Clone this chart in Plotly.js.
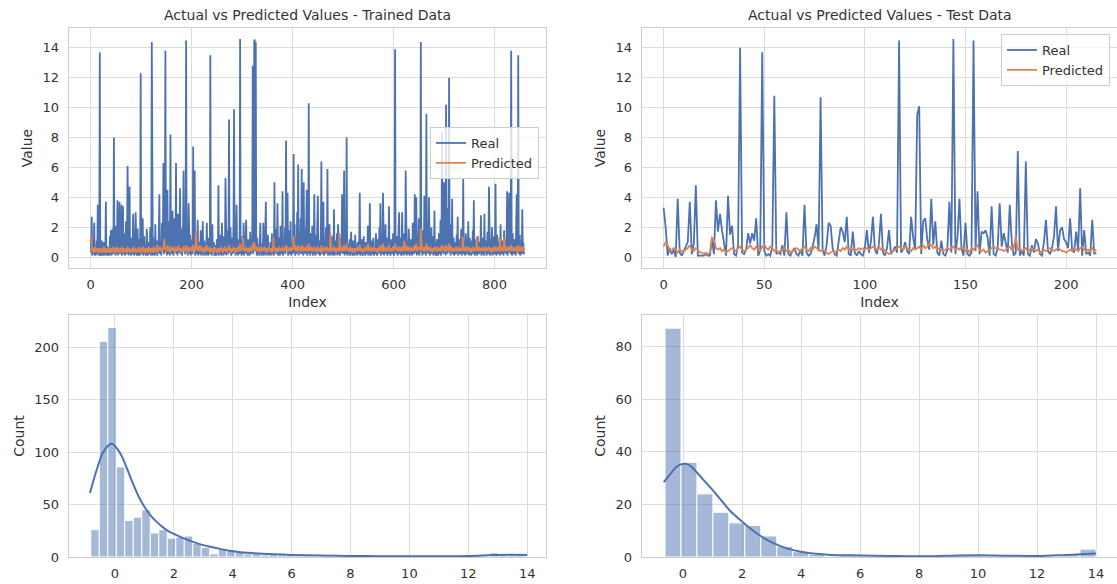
<!DOCTYPE html>
<html><head><meta charset="utf-8">
<script src="https://cdn.plot.ly/plotly-3.0.1.min.js"></script>
<style>html,body{margin:0;padding:0;background:#fff}#chart{width:1117px;height:584px}</style>
</head><body><div id="chart"></div>
<script>
// ---- Top-left: training data, real values (index 0..859)
const trainReal = [
1.2,0.3,2.7,0.1,1.0,0.2,0.4,2.3,0.1,0.8,0.1,0.3,1.1,0.2,3.5,0.4,0.1,0.9,13.7,0.2,
0.1,0.6,1.1,0.1,0.3,0.2,1.0,0.1,0.4,0.2,3.7,0.3,0.1,0.7,0.2,0.1,0.5,0.1,1.4,0.2,
1.8,0.1,0.4,1.9,0.2,0.6,8.0,0.3,1.2,0.1,2.1,0.4,0.2,3.8,0.1,1.5,0.3,3.7,0.2,1.1,
0.4,3.5,0.1,0.8,3.4,0.2,0.5,1.6,0.1,0.3,2.4,0.2,0.9,6.1,0.4,0.1,1.8,4.7,0.2,0.6,
0.1,1.3,0.3,0.2,2.9,0.5,0.1,1.0,0.2,3.0,0.3,0.1,0.7,1.9,0.1,0.4,1.2,0.2,0.1,12.3,
0.3,1.1,0.2,2.6,0.1,0.5,1.4,0.2,0.8,0.1,0.3,1.9,0.2,0.1,0.6,1.0,0.2,0.4,2.0,0.1,
0.5,14.4,0.2,0.1,1.3,0.3,0.7,0.1,2.2,0.4,0.2,1.1,0.1,0.9,0.3,1.6,4.2,0.2,0.5,1.0,
0.1,2.3,0.4,1.2,6.3,0.2,0.8,2.8,13.8,0.3,1.5,0.1,4.5,0.6,0.2,2.4,0.9,0.1,8.2,0.4,
1.7,0.2,3.1,0.5,0.1,1.2,2.6,0.3,0.7,6.3,0.2,1.4,0.1,2.9,0.5,0.3,1.1,4.6,0.2,0.8,
1.9,0.1,0.6,2.2,5.8,0.4,1.3,0.2,0.9,14.5,0.3,2.0,0.1,1.0,3.6,0.4,0.2,1.5,0.1,0.7,
0.3,1.2,0.2,7.4,0.5,1.7,5.8,0.1,0.8,0.3,1.4,0.2,2.5,0.1,0.6,1.0,0.2,0.4,1.8,0.1,
0.5,0.2,2.4,0.3,0.1,1.1,0.4,0.2,0.9,0.1,2.3,0.3,0.6,0.1,1.3,0.2,0.4,13.5,0.2,0.7,
0.1,2.2,0.3,0.5,1.0,0.1,0.2,0.8,0.4,0.1,1.2,0.3,0.2,4.8,0.1,0.6,1.5,0.2,0.4,0.1,
2.3,0.3,0.9,0.1,1.4,0.2,0.5,5.3,0.3,0.1,1.8,0.4,0.2,1.1,9.2,0.3,0.7,2.0,0.1,0.5,
1.3,0.2,0.4,2.6,9.9,0.3,0.8,0.1,1.6,3.5,0.2,0.6,0.1,1.2,0.4,0.2,14.6,0.3,0.9,0.1,
0.5,1.4,0.2,2.3,0.1,0.7,0.3,1.0,2.5,0.2,0.4,0.1,1.2,0.3,0.6,0.1,1.7,0.2,0.5,1.1,
0.3,12.8,0.2,1.5,14.5,14.5,0.4,14.4,0.6,0.1,1.3,0.2,0.8,0.3,0.1,1.0,2.3,0.2,0.5,0.1,
0.9,0.3,2.3,0.1,0.6,0.2,1.2,3.7,0.1,0.4,0.2,1.5,0.3,0.1,0.7,0.2,1.0,0.4,0.1,1.6,
0.2,0.5,1.1,0.1,5.0,0.3,0.8,1.9,0.2,0.4,3.6,0.1,0.6,1.3,0.2,0.1,2.1,0.3,0.9,0.2,
4.4,0.1,0.5,1.2,0.3,2.0,0.2,7.8,0.6,1.4,4.3,0.1,0.3,1.8,0.2,0.7,2.4,0.1,0.4,1.0,
0.2,1.5,6.9,0.3,2.2,0.1,0.8,1.3,0.2,3.0,0.4,6.2,0.1,1.7,0.3,0.6,2.6,0.2,5.9,0.4,
1.1,0.1,5.0,0.3,1.9,0.2,0.7,2.3,4.5,0.1,0.5,1.4,10.3,0.2,0.9,0.1,1.6,0.3,0.4,2.1,
0.1,0.6,1.2,4.2,0.3,0.1,1.5,0.2,0.8,2.4,4.1,0.2,0.5,1.1,0.1,0.3,1.8,6.4,0.2,0.7,
1.3,3.7,0.1,0.4,1.0,0.2,2.0,0.3,0.6,5.9,0.1,1.2,0.3,2.2,0.1,0.5,0.9,0.2,1.4,0.1,
0.4,0.2,3.2,0.1,0.7,1.1,0.2,0.3,1.6,0.1,2.2,0.4,0.2,0.8,0.1,1.3,0.3,0.5,4.2,0.2,
1.0,0.3,5.8,0.1,0.6,1.4,0.2,8.0,0.4,0.1,0.9,0.3,0.2,1.2,0.1,0.5,1.7,0.2,0.4,0.1,
1.1,0.2,0.6,0.1,1.5,0.3,0.2,0.8,0.1,1.0,0.4,0.2,1.3,4.3,0.1,0.5,0.3,1.2,0.2,0.1,
0.7,1.4,0.2,0.4,0.1,1.0,0.3,0.6,0.2,2.1,0.1,0.9,0.4,3.6,0.2,0.1,1.1,0.5,0.3,0.2,
1.3,0.1,0.6,0.3,0.2,1.6,0.4,0.1,0.8,1.2,0.2,0.5,2.0,0.3,3.6,0.1,0.7,1.5,0.2,4.3,
0.3,0.1,1.0,0.4,2.2,0.2,0.6,1.3,0.1,0.4,0.9,3.4,0.2,0.5,0.1,1.2,0.3,0.7,0.2,1.6,
0.4,0.1,1.1,13.9,0.3,0.8,0.2,1.4,0.1,0.6,2.0,3.0,0.2,0.5,1.3,0.1,0.4,3.0,0.2,0.9,
0.1,1.6,0.3,0.2,5.8,0.4,0.1,1.0,0.6,0.2,1.9,0.3,0.1,0.8,1.2,0.2,0.5,0.1,2.3,0.4,
1.1,0.2,4.2,0.3,0.7,4.0,0.1,1.5,0.4,0.2,2.6,0.1,0.6,1.2,14.4,0.3,0.9,0.1,1.8,0.4,
0.2,4.1,0.6,1.3,0.1,9.6,0.3,0.8,2.4,0.2,4.0,0.5,0.1,1.1,0.3,2.0,0.2,0.6,1.4,0.1,
0.4,3.1,0.2,0.9,0.1,0.5,1.2,0.3,0.1,0.7,1.6,0.2,0.4,2.5,0.1,0.8,8.3,0.3,1.9,0.2,
5.0,0.6,2.8,0.1,10.2,0.4,1.5,0.2,3.3,0.7,12.0,0.3,1.1,0.1,2.2,0.5,3.9,0.2,0.9,1.3,
0.1,0.6,1.0,0.3,0.2,1.5,0.4,2.7,0.1,0.8,0.3,1.2,0.2,0.5,1.9,0.1,0.7,0.3,5.3,0.2,
1.0,0.4,0.1,1.6,0.3,0.2,0.9,0.5,2.4,0.1,0.6,1.3,0.2,0.4,0.1,1.1,0.3,1.8,0.2,3.8,
0.3,0.1,0.7,1.2,0.2,0.5,0.1,1.4,0.3,0.8,0.2,1.0,0.4,2.8,0.1,0.6,1.3,0.2,0.4,0.1,
2.9,0.3,0.6,1.1,0.1,0.4,1.7,0.2,0.8,4.7,0.3,0.1,1.2,0.5,0.2,2.0,0.1,0.7,1.4,0.3,
0.2,1.0,4.9,0.3,0.1,1.5,0.6,0.2,0.9,0.4,1.3,0.1,2.2,0.3,0.7,0.2,1.1,0.5,0.1,1.8,
0.3,0.6,1.2,0.2,1.4,4.4,0.1,0.8,2.0,4.3,0.3,1.0,0.2,13.8,0.5,0.1,1.6,0.3,0.7,0.2,
1.2,0.4,0.1,2.3,4.2,0.3,0.9,13.5,0.2,0.6,1.5,0.1,0.4,1.1,0.2,3.2,0.5,1.0,0.2,0.3
];
// ---- Top-left: training data, predicted values
const trainPred = [
1.4,0.9,0.6,0.4,0.5,0.3,0.6,0.4,0.5,0.7,0.3,0.5,0.4,0.6,0.5,0.3,0.4,0.6,0.5,0.4,
0.3,0.5,0.6,0.4,0.3,0.5,0.7,0.4,0.5,0.3,0.6,0.4,0.5,0.3,0.4,0.6,0.5,0.3,0.4,0.5,
0.6,0.4,0.3,0.5,0.7,0.4,0.5,0.6,0.3,0.4,0.5,0.7,0.4,0.3,0.5,0.6,0.4,0.5,0.3,0.6,
0.4,0.5,0.7,0.3,0.4,0.6,0.5,0.3,0.5,0.4,0.6,0.4,0.3,0.7,0.5,0.4,0.6,0.3,0.5,0.4,
0.5,0.3,0.6,0.4,0.5,0.7,0.4,0.3,0.5,0.6,0.4,0.5,0.3,0.4,0.6,0.5,0.7,0.4,0.3,0.5,
0.6,0.4,0.5,0.3,0.7,0.5,0.4,0.6,0.3,0.5,0.4,0.6,0.5,0.3,0.4,0.7,0.5,0.4,0.6,0.3,
0.5,0.4,0.6,0.5,0.3,0.7,0.4,0.5,0.6,0.4,0.3,0.5,0.8,0.4,0.5,0.6,0.4,0.7,0.5,0.4,
0.6,0.5,0.4,0.7,0.5,0.9,1.2,0.6,0.5,0.7,0.4,0.6,0.5,0.8,0.4,0.6,0.5,0.3,0.7,0.5,
0.4,0.6,0.5,0.7,0.4,0.5,0.6,0.3,0.5,0.7,0.4,0.6,0.5,0.4,0.8,0.5,0.6,0.4,0.5,0.3,
0.6,0.5,0.4,0.7,0.5,0.6,0.4,0.5,0.8,0.6,0.4,0.5,0.7,0.3,0.5,0.6,0.4,0.5,0.7,0.4,
0.5,0.6,0.4,0.8,0.5,0.7,0.6,0.4,0.9,1.8,0.6,0.5,0.7,0.4,0.6,0.5,0.8,0.4,0.6,0.5,
0.7,0.4,0.5,0.6,0.3,0.5,0.7,0.4,0.6,0.5,0.8,0.4,0.5,0.6,0.4,0.7,0.5,0.3,0.6,0.5,
0.4,0.6,0.5,0.3,0.5,0.7,0.4,0.6,0.5,0.4,0.3,0.5,0.6,0.4,0.5,0.3,0.6,0.4,0.5,0.7,
0.4,0.5,0.3,0.6,0.4,0.5,0.7,0.4,0.5,0.6,0.3,0.5,0.4,0.6,0.8,0.5,0.4,0.6,0.5,0.3,
0.5,0.6,0.4,0.7,0.5,0.4,0.6,0.5,0.3,0.6,0.4,0.5,0.7,0.4,0.5,0.6,0.9,0.5,0.4,0.6,
0.5,0.7,1.3,0.6,0.5,0.4,0.6,0.5,0.7,0.4,0.6,0.5,0.3,0.6,0.4,0.5,0.7,0.4,0.6,0.5,
0.4,0.9,0.5,0.6,1.0,0.8,0.5,0.7,0.4,0.6,0.5,0.7,0.4,0.5,0.6,0.3,0.5,0.7,0.4,0.6,
0.5,0.4,0.6,0.5,0.7,0.4,0.5,0.6,0.3,0.5,0.4,0.6,0.5,0.7,0.4,0.5,0.6,0.4,0.5,0.3,
0.6,0.5,1.3,0.4,0.7,0.5,0.6,0.4,0.5,0.3,0.6,0.5,0.4,0.7,0.5,0.6,0.4,0.5,0.6,0.4,
0.7,0.5,0.4,0.6,0.5,0.7,0.4,0.8,0.6,0.5,0.7,0.4,0.5,0.6,0.4,0.5,0.7,0.5,0.4,0.6,
0.5,0.7,1.4,0.6,0.5,0.8,0.4,0.6,0.5,0.7,0.4,0.8,0.5,0.6,0.4,0.5,0.7,0.4,0.8,0.5,
0.6,0.4,0.7,0.5,0.6,0.4,0.5,0.7,0.6,0.4,0.5,0.6,0.9,0.5,0.4,0.6,0.5,0.7,0.4,0.5,
0.6,0.4,0.5,0.7,0.5,0.4,0.6,0.5,0.3,0.6,0.7,0.4,0.5,0.6,0.4,0.5,0.3,0.8,0.5,0.4,
0.6,0.5,0.4,0.7,0.5,0.6,0.4,0.5,0.7,0.6,0.4,0.5,0.6,0.4,0.5,1.6,0.6,0.4,0.5,0.6,
0.4,0.5,0.7,0.4,0.6,0.5,0.3,0.5,0.6,0.4,0.5,0.7,0.4,1.6,0.5,0.6,0.4,0.5,0.7,0.4,
0.5,0.6,0.8,0.4,0.5,0.7,0.5,0.9,0.6,0.4,0.5,0.6,0.4,0.5,0.7,0.4,0.5,0.6,0.3,0.5,
0.6,0.4,0.5,0.3,0.6,0.5,0.4,0.6,0.5,0.7,0.4,0.5,0.6,0.8,0.4,0.5,0.6,0.4,0.5,0.3,
0.5,0.6,0.4,0.5,0.7,0.4,0.5,0.6,0.4,0.9,0.5,0.6,0.4,0.7,0.5,0.4,0.6,0.5,0.4,0.6,
0.5,0.7,0.4,0.6,0.5,0.4,0.6,0.5,0.3,0.5,0.6,0.4,0.7,0.5,0.8,0.4,0.5,0.6,0.4,0.9,
0.5,0.4,0.6,0.5,0.7,0.4,0.5,0.6,0.4,0.5,0.7,0.8,0.5,0.4,0.6,0.5,0.4,0.6,0.5,0.7,
0.4,0.6,0.5,0.9,0.6,0.5,0.7,0.4,0.6,0.5,0.4,0.7,0.5,0.6,0.4,0.5,0.7,0.6,0.4,0.5,
0.6,1.1,0.5,0.4,0.8,0.6,0.5,0.4,0.7,0.5,0.6,0.4,0.5,0.7,0.4,0.6,0.5,0.4,0.6,0.5,
0.7,0.4,0.8,0.5,0.6,0.9,0.4,0.5,0.6,0.7,0.5,0.6,0.4,0.7,1.9,0.6,0.5,0.7,0.4,0.6,
0.5,0.7,0.4,0.6,0.5,0.9,0.6,0.4,0.7,0.5,0.6,0.4,0.5,0.7,0.4,0.6,0.5,0.3,0.6,0.5,
0.4,0.7,0.5,0.6,0.4,0.5,0.7,0.4,0.6,0.5,0.4,0.6,0.5,0.7,0.4,0.5,0.8,0.6,0.5,0.4,
0.7,0.5,0.6,0.4,0.8,0.6,0.5,0.4,0.7,0.5,0.9,0.6,0.4,0.5,0.7,0.4,0.6,0.5,0.4,0.6,
0.5,0.4,0.6,0.5,0.7,0.4,0.5,0.6,0.4,0.5,0.7,0.4,0.6,0.5,0.4,0.6,0.5,1.4,0.6,0.4,
0.5,0.6,0.4,0.7,0.5,0.4,0.6,0.5,0.7,0.4,0.5,0.6,0.4,0.5,0.3,0.6,0.5,0.7,0.4,0.6,
0.5,0.4,0.6,0.5,0.7,1.4,0.5,0.4,0.6,0.5,0.7,0.4,0.6,0.5,0.4,0.6,0.5,0.7,0.4,0.5,
0.6,0.4,0.5,0.7,0.4,0.6,0.5,0.4,0.6,0.7,0.5,0.4,0.6,0.5,0.3,0.6,0.4,0.5,0.7,0.4,
0.5,0.6,0.7,0.4,0.5,0.6,0.4,0.7,0.5,0.6,0.4,1.3,0.6,0.5,0.4,0.7,0.5,0.6,0.4,1.3,
0.6,0.5,0.4,0.7,0.5,0.6,0.4,0.5,0.7,0.6,0.4,0.5,0.6,0.8,0.5,0.4,0.6,0.5,0.7,0.4,
0.5,0.6,0.4,0.7,0.5,0.6,0.3,0.8,0.5,0.4,0.6,0.5,0.7,0.4,0.5,0.6,0.4,0.7,0.5,0.6
];
// ---- Top-right: test data, real values (index 0..215)
const testReal = [
3.3,2.0,0.1,0.6,0.2,0.5,0.0,3.9,0.3,0.1,0.4,0.7,1.0,3.7,0.2,0.9,4.8,0.1,0.1,0.1,
0.1,0.2,0.1,0.1,1.2,0.2,3.8,1.7,2.9,1.8,0.8,0.1,4.1,1.5,2.1,0.2,0.1,0.8,14.0,0.3,
0.2,0.5,1.6,0.9,1.6,1.1,2.6,0.1,0.4,13.7,0.4,0.1,0.2,0.1,0.7,10.8,0.2,0.3,0.2,0.8,
0.1,3.0,0.2,0.1,0.4,0.6,0.2,0.1,0.5,0.1,3.5,0.3,0.1,0.2,0.7,1.3,2.2,0.4,10.7,0.5,
0.1,0.8,2.3,2.1,0.6,0.2,0.1,1.1,2.0,1.7,1.0,2.7,0.2,0.1,1.7,0.3,0.1,0.4,0.2,0.1,
0.6,1.8,0.3,1.0,2.7,0.5,0.2,0.9,2.9,0.3,0.1,0.6,1.8,0.2,0.4,0.7,0.3,14.5,0.3,0.5,
1.0,0.4,0.2,2.7,1.3,0.5,9.5,10.1,0.2,2.4,2.6,1.2,0.5,3.9,0.8,2.4,0.3,0.1,1.1,0.2,
0.1,0.5,3.7,0.3,14.6,0.2,1.3,3.9,0.6,0.1,2.3,0.2,0.1,0.3,14.5,0.4,4.4,0.2,1.7,1.6,
1.8,1.3,0.1,3.4,0.2,0.1,0.6,3.6,0.7,1.6,0.8,0.3,3.5,1.0,0.1,0.3,7.1,0.1,0.4,0.1,
6.4,0.2,0.1,0.8,0.3,1.2,0.9,0.2,0.1,1.0,2.5,0.4,0.2,0.6,1.4,3.4,0.4,1.8,2.0,1.2,
1.0,0.6,2.6,0.5,0.3,1.7,0.4,4.6,0.1,1.8,0.2,0.3,0.1,2.5,0.2,0.3
];
// ---- Top-right: test data, predicted values
const testPred = [
0.7,1.0,0.8,0.5,0.4,0.6,0.5,0.3,0.5,0.4,0.4,0.5,0.6,0.8,0.5,0.4,0.6,0.5,0.3,0.3,
0.2,0.3,0.2,0.3,1.3,1.2,0.6,0.5,0.6,0.4,0.5,0.3,0.4,0.5,0.6,0.5,0.4,0.6,0.7,0.5,
0.4,0.5,0.6,0.8,0.6,0.5,0.7,0.5,0.4,0.7,0.8,0.6,0.5,0.7,0.6,0.4,0.5,0.3,0.4,0.5,
0.6,0.4,0.5,0.3,0.4,0.5,0.6,0.5,0.4,0.6,0.7,0.5,0.4,0.6,0.5,0.7,0.6,0.5,0.4,0.5,
0.4,0.3,0.2,0.3,0.4,0.3,0.4,0.5,0.4,0.6,0.5,0.7,0.5,0.6,0.5,0.4,0.5,0.6,0.5,0.6,
0.5,0.6,0.5,0.6,0.7,0.6,0.5,0.7,0.5,0.6,0.4,0.3,0.2,0.3,0.4,0.5,0.6,0.7,0.6,0.5,
0.7,0.6,0.5,0.4,0.6,0.5,0.6,0.7,0.5,0.8,0.6,0.7,0.9,0.8,0.6,0.7,0.5,0.6,0.5,0.4,
0.5,0.6,0.5,0.6,0.7,0.5,0.6,0.5,0.7,0.6,0.4,0.5,0.3,0.6,0.5,0.7,0.8,0.5,0.4,0.5,
0.3,0.4,0.5,0.6,0.7,0.6,0.6,0.5,0.5,0.4,0.5,0.6,0.7,0.5,0.6,1.4,0.5,0.6,0.4,0.5,
0.6,0.4,0.5,0.6,0.5,0.4,0.5,0.3,0.4,0.5,0.4,0.5,0.6,0.5,0.4,0.5,0.6,0.5,0.4,0.4,
0.3,0.4,0.5,0.4,0.6,0.5,0.4,0.6,0.7,0.5,0.4,0.5,0.4,0.6,0.4,0.5
];
// ---- Bottom-left: histogram of training residuals
const trainBinStart = -0.82;
const trainBinWidth = 0.2886;
const trainCounts = [26,206,219,86,35,38,45,23,26,18,19,20,13,9,3,8,7,5,3,3,2,3,2,2,1,1,0,1,0,1,0,1,0,0,0,0,0,0,1,0,0,0,0,1,0,1,0,4,2,2,3];
const trainKdeX = [-0.85,-0.6,-0.4,-0.2,-0.1,0.0,0.2,0.4,0.6,0.8,1.0,1.2,1.4,1.6,1.8,2.0,2.4,2.8,3.2,3.6,4.0,4.5,5.0,6.0,7.0,8.0,9.0,10.0,11.0,12.0,12.8,13.4,14.0];
const trainKdeY = [61,85,100,107,108,106,98,85,71,58,48,40,34,29,25,22,17,13,10,7.5,5.5,4,3,2,1.5,1,0.8,0.6,0.7,1.0,1.8,2.2,2.0];
// ---- Bottom-right: histogram of test residuals
const testBinStart = -0.61;
const testBinWidth = 0.541;
const testCounts = [87,36,24,17,13,12,8,4,2,1,0,1,0,0,0,0,0,0,1,1,0,0,0,0,0,1,3];
const testKdeX = [-0.65,-0.4,-0.2,0.0,0.2,0.4,0.6,0.8,1.0,1.3,1.6,2.0,2.4,2.8,3.2,3.6,4.0,4.5,5.0,6.0,7.0,8.0,9.0,10.0,11.0,12.0,13.0,14.0];
const testKdeY = [28.5,32,34.5,35.4,35,33,30.5,28,25.5,21.5,17.5,13.5,9.8,6.8,4.6,3.0,2.0,1.2,0.8,0.6,0.4,0.3,0.5,0.7,0.5,0.4,0.8,1.3];

const seriesNames = ['Real','Predicted'];
const titles = ['Actual vs Predicted Values - Trained Data','Actual vs Predicted Values - Test Data'];

// ---- styling
const FONT = 'DejaVu Sans, sans-serif';
const TXT = '#333333';
const BLUE = '#4c72b0', ORANGE = '#dd8452';
const LW = 1.8;
const idx = a => a.map((_, i) => i);
const edges = (s, w, c) => c.map((_, i) => s + i * w);

const traces = [
  {x: idx(trainReal), y: trainReal, type:'scatter', mode:'lines', name: seriesNames[0], line:{color:BLUE, width:LW}, xaxis:'x', yaxis:'y', legend:'legend'},
  {x: idx(trainPred), y: trainPred, type:'scatter', mode:'lines', name: seriesNames[1], line:{color:ORANGE, width:LW}, xaxis:'x', yaxis:'y', legend:'legend'},
  {x: idx(testReal), y: testReal, type:'scatter', mode:'lines', name: seriesNames[0], line:{color:BLUE, width:LW}, xaxis:'x2', yaxis:'y2', legend:'legend2'},
  {x: idx(testPred), y: testPred, type:'scatter', mode:'lines', name: seriesNames[1], line:{color:ORANGE, width:LW}, xaxis:'x2', yaxis:'y2', legend:'legend2'},
  {x: edges(trainBinStart, trainBinWidth, trainCounts), y: trainCounts, type:'bar', offset:0, width:trainBinWidth,
   marker:{color:'rgba(76,114,176,0.5)', line:{color:'#ffffff', width:1}}, showlegend:false, xaxis:'x3', yaxis:'y3'},
  {x: trainKdeX, y: trainKdeY, type:'scatter', mode:'lines', line:{color:BLUE, width:2, shape:'spline'}, showlegend:false, xaxis:'x3', yaxis:'y3'},
  {x: edges(testBinStart, testBinWidth, testCounts), y: testCounts, type:'bar', offset:0, width:testBinWidth,
   marker:{color:'rgba(76,114,176,0.5)', line:{color:'#ffffff', width:1}}, showlegend:false, xaxis:'x4', yaxis:'y4'},
  {x: testKdeX, y: testKdeY, type:'scatter', mode:'lines', line:{color:BLUE, width:2, shape:'spline'}, showlegend:false, xaxis:'x4', yaxis:'y4'}
];

const W = 1117, H = 584;
const colL = [69/W, 546/W], colR = [642/W, 1];
const rowT = [1-268/H, 1-28/H], rowB = [1-557/H, 1-315/H];

function ax(o){
  return Object.assign({
    showgrid:true, gridcolor:'#dcdcdc', gridwidth:1, zeroline:false,
    showline:true, linecolor:'#cccccc', linewidth:1.25, mirror:true,
    ticks:'', tickfont:{family:FONT, size:13, color:TXT}, automargin:false
  }, o);
}
const axTitle = t => ({text:t, font:{family:FONT, size:14, color:TXT}, standoff:6});

const legendStyle = {bgcolor:'rgba(255,255,255,0.8)', bordercolor:'#cccccc', borderwidth:1,
  font:{family:FONT, size:13, color:TXT}, xanchor:'right', yanchor:'top', tracegroupgap:0, itemwidth:30};

const layout = {
  width:W, height:H, margin:{l:0, r:0, t:0, b:0},
  paper_bgcolor:'#ffffff', plot_bgcolor:'#ffffff',
  font:{family:FONT, color:TXT},
  bargap:0,
  xaxis: ax({domain:colL, anchor:'y', range:[-43, 902], tickvals:[0,200,400,600,800], title:axTitle('Index'), ticklabelstandoff:4}),
  yaxis: ax({domain:rowT, anchor:'x', range:[-0.73, 15.33], tickvals:[0,2,4,6,8,10,12,14], title:axTitle('Value'), ticklabelstandoff:6}),
  xaxis2: ax({domain:colR, anchor:'y2', range:[-10.75, 225.3], tickvals:[0,50,100,150,200], title:axTitle('Index'), ticklabelstandoff:4}),
  yaxis2: ax({domain:rowT, anchor:'x2', range:[-0.73, 15.33], tickvals:[0,2,4,6,8,10,12,14], title:axTitle('Value'), ticklabelstandoff:6}),
  xaxis3: ax({domain:colL, anchor:'y3', range:[-1.56, 14.64], tickvals:[0,2,4,6,8,10,12,14], ticklabelstandoff:4}),
  yaxis3: ax({domain:rowB, anchor:'x3', range:[0, 231], tickvals:[0,50,100,150,200], title:axTitle('Count'), ticklabelstandoff:6}),
  xaxis4: ax({domain:colR, anchor:'y4', range:[-1.39, 14.71], tickvals:[0,2,4,6,8,10,12,14], ticklabelstandoff:4}),
  yaxis4: ax({domain:rowB, anchor:'x4', range:[0, 92], tickvals:[0,20,40,60,80], title:axTitle('Count'), ticklabelstandoff:6}),
  legend: Object.assign({x:539/W, y:1-127/H}, legendStyle),
  legend2: Object.assign({x:1110/W, y:1-34/H}, legendStyle),
  annotations: [
    {text:titles[0], xref:'paper', yref:'paper', x:(colL[0]+colL[1])/2, y:rowT[1], xanchor:'center', yanchor:'bottom', yshift:3, showarrow:false, font:{family:FONT, size:14, color:TXT}},
    {text:titles[1], xref:'paper', yref:'paper', x:(642/W+1118/W)/2, y:rowT[1], xanchor:'center', yanchor:'bottom', yshift:3, showarrow:false, font:{family:FONT, size:14, color:TXT}}
  ]
};

Plotly.newPlot('chart', traces, layout, {displayModeBar:false, staticPlot:true});
</script>
</body></html>
